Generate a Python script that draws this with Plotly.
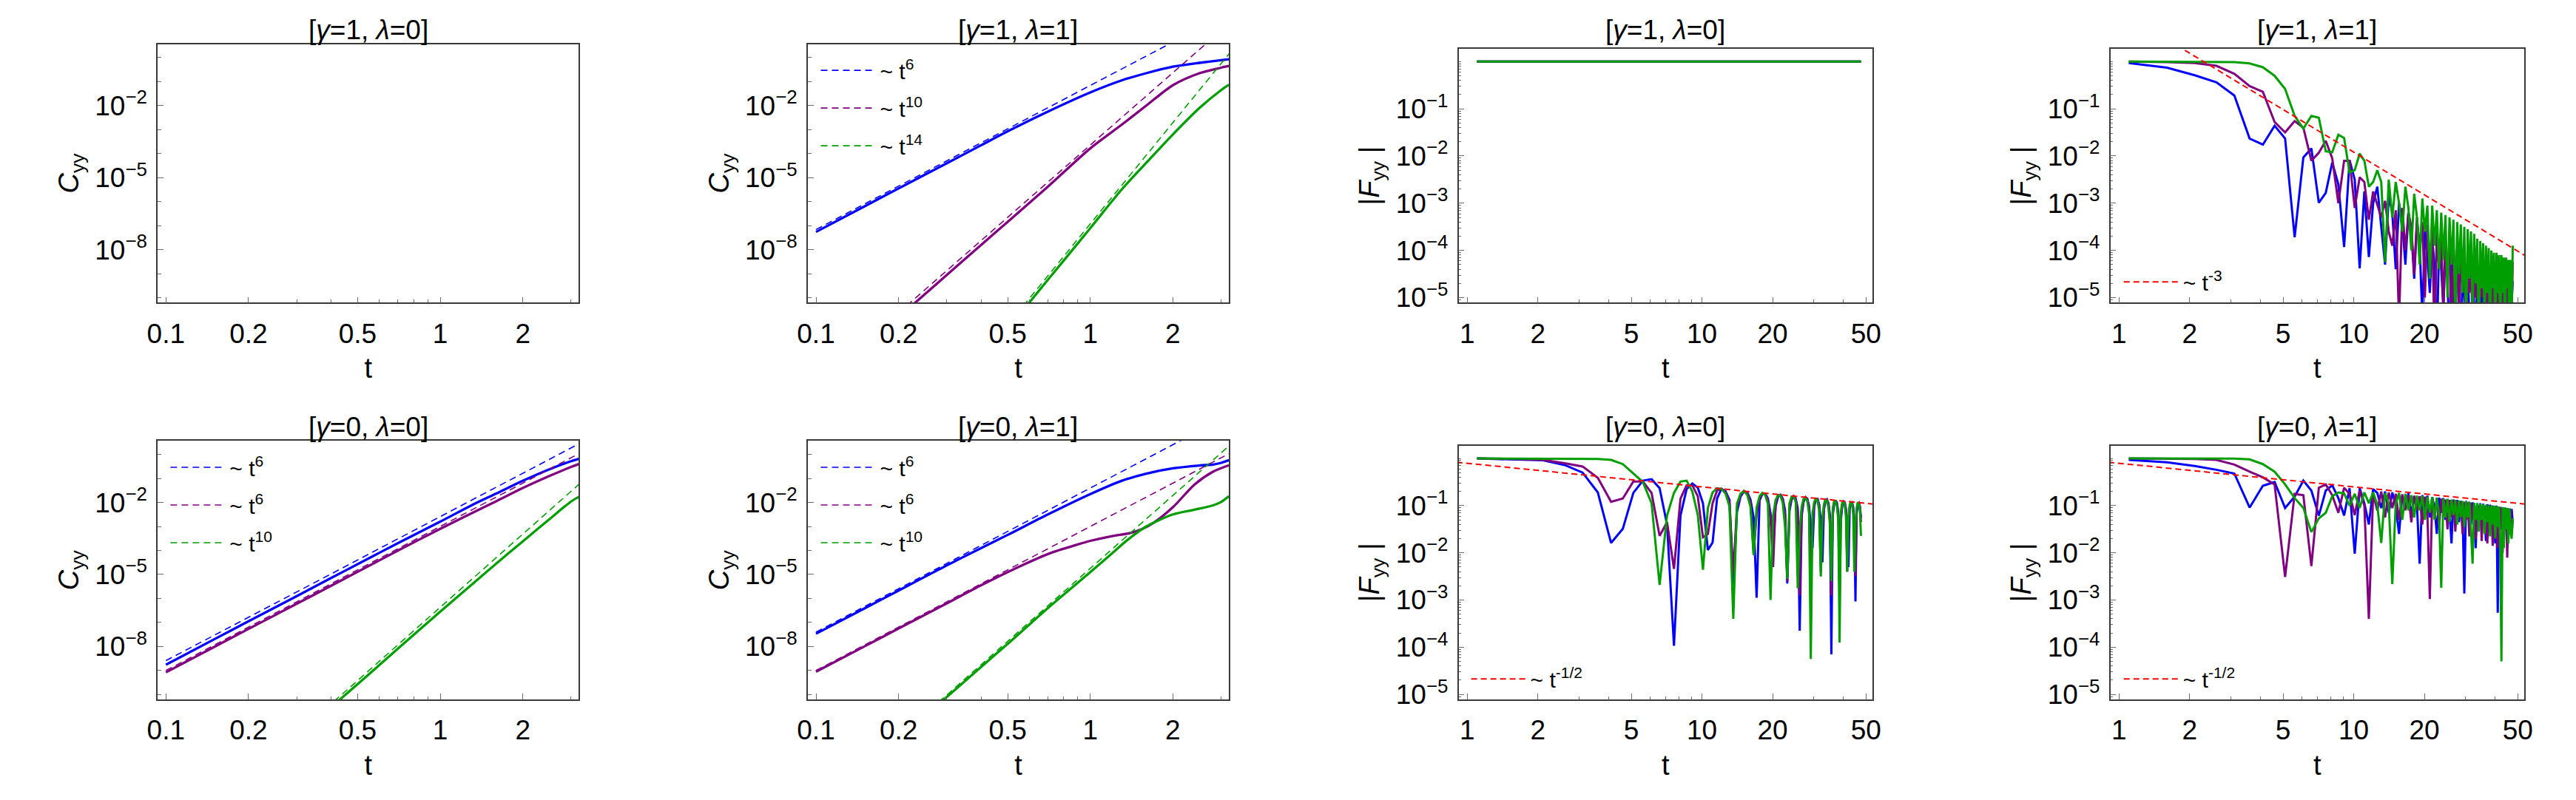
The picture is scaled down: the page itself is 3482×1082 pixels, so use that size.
import numpy as np
import plotly.graph_objects as go

W, H = 3482, 1082
FONT = "Liberation Sans, Arial, Helvetica, sans-serif"
BLUE, PURPLE, GREEN, RED = "rgb(0,0,255)", "rgb(128,0,128)", "rgb(0,158,0)", "rgb(255,0,0)"
FRAME, TICKC = "#3a3a3a", "#6a6a6a"

# ---------------- C_yy panels (log10 values) ----------------
# panel [gamma=1, lambda=1]
P2_T_BLUE = [0.1, 0.15, 0.2, 0.3, 0.4, 0.5, 0.7, 1.0, 1.3, 1.6, 2.0, 2.5, 3.0, 3.2]
P2_BLUE = [-7.26, -6.20, -5.45, -4.40, -3.65, -3.07, -2.25, -1.45, -0.95, -0.65, -0.38, -0.22, -0.11, -0.07]
P2_T_PURPLE = [0.22, 0.3, 0.4, 0.5, 0.7, 1.0, 1.3, 1.6, 2.0, 2.5, 3.0, 3.2]
P2_PURPLE = [-10.40, -9.05, -7.80, -6.84, -5.38, -3.78, -2.80, -2.00, -1.15, -0.65, -0.42, -0.35]
P2_T_GREEN = [0.58, 0.7, 1.0, 1.3, 1.6, 2.0, 2.5, 3.0, 3.2]
P2_GREEN = [-10.40, -9.26, -7.10, -5.50, -4.38, -3.20, -2.10, -1.35, -1.13]
P2_FIT_T_BLUE, P2_FIT_BLUE = [0.1, 3.2], [-7.16, 1.87]
P2_FIT_T_PURPLE, P2_FIT_PURPLE = [0.2, 3.2], [-10.63, 1.41]
P2_FIT_T_GREEN, P2_FIT_GREEN = [0.57, 3.2], [-10.34, 0.15]
P2_LABELS = ["~ t<sup>6</sup>", "~ t<sup>10</sup>", "~ t<sup>14</sup>"]

# panel [gamma=0, lambda=0]
P5_T = [0.1, 0.15, 0.2, 0.3, 0.4, 0.5, 0.7, 1.0, 1.3, 1.6, 2.0, 2.5, 3.0, 3.2]
P5_BLUE = [-8.76, -7.70, -6.95, -5.90, -5.15, -4.57, -3.70, -2.80, -2.12, -1.63, -1.10, -0.62, -0.28, -0.185]
P5_PURPLE = [-9.08, -8.02, -7.27, -6.22, -5.47, -4.89, -4.01, -3.10, -2.45, -1.95, -1.40, -0.90, -0.52, -0.40]
P5_T_GREEN = [0.42, 0.5, 0.7, 1.0, 1.3, 1.6, 2.0, 2.5, 3.0, 3.2]
P5_GREEN = [-10.32, -9.57, -8.10, -6.55, -5.43, -4.55, -3.62, -2.70, -1.96, -1.77]
P5_FIT_T_BLUE, P5_FIT_BLUE = [0.1, 3.2], [-8.59, 0.44]
P5_FIT_T_PURPLE, P5_FIT_PURPLE = [0.1, 3.2], [-9.00, 0.03]
P5_FIT_T_GREEN, P5_FIT_GREEN = [0.41, 3.2], [-10.29, -1.25]
P5_LABELS = ["~ t<sup>6</sup>", "~ t<sup>6</sup>", "~ t<sup>10</sup>"]

# panel [gamma=0, lambda=1]
P6_T_BLUE = [0.1, 0.15, 0.2, 0.3, 0.4, 0.5, 0.7, 1.0, 1.3, 1.6, 2.0, 2.5, 2.8, 3.0, 3.2]
P6_BLUE = [-7.47, -6.42, -5.67, -4.62, -3.90, -3.35, -2.50, -1.65, -1.10, -0.80, -0.58, -0.46, -0.42, -0.35, -0.24]
P6_T_PURPLE = [0.1, 0.15, 0.2, 0.3, 0.4, 0.5, 0.7, 0.9, 1.0, 1.2, 1.4, 1.55, 1.7, 2.0, 2.4, 2.8, 3.2]
P6_PURPLE = [-9.05, -8.00, -7.25, -6.20, -5.45, -4.90, -4.15, -3.75, -3.60, -3.40, -3.27, -3.10, -2.85, -2.20, -1.25, -0.72, -0.45]
P6_T_GREEN = [0.28, 0.4, 0.5, 0.7, 1.0, 1.2, 1.37, 1.6, 2.0, 2.4, 2.8, 3.0, 3.2]
P6_GREEN = [-10.40, -8.85, -7.89, -6.40, -4.90, -4.12, -3.55, -3.00, -2.50, -2.30, -2.12, -1.98, -1.74]
P6_FIT_T_BLUE, P6_FIT_BLUE = [0.1, 3.2], [-7.40, 1.63]
P6_FIT_T_PURPLE, P6_FIT_PURPLE = [0.1, 3.2], [-9.00, 0.03]
P6_FIT_T_GREEN, P6_FIT_GREEN = [0.28, 3.2], [-10.32, 0.35]
P6_LABELS = ["~ t<sup>6</sup>", "~ t<sup>6</sup>", "~ t<sup>10</sup>"]

# ---------------- |F_yy| panels (log10 values) ----------------
T_F = [1.1, 1.6, 2.1, 2.6, 3.1, 3.6, 4.1, 4.6, 5.1, 5.6,
       6.1, 6.6, 7.1, 7.6, 8.1, 8.6, 9.1, 9.6, 10.1, 10.6,
       11.1, 11.6, 12.1, 12.6, 13.1, 13.6, 14.1, 14.6, 15.1, 15.6,
       16.1, 16.6, 17.1, 17.6, 18.1, 18.6, 19.1, 19.6, 20.1, 20.6,
       21.1, 21.6, 22.1, 22.6, 23.1, 23.6, 24.1, 24.6, 25.1, 25.6,
       26.1, 26.6, 27.1, 27.6, 28.1, 28.6, 29.1, 29.6, 30.1, 30.6,
       31.1, 31.6, 32.1, 32.6, 33.1, 33.6, 34.1, 34.6, 35.1, 35.6,
       36.1, 36.6, 37.1, 37.6, 38.1, 38.6, 39.1, 39.6, 40.1, 40.6,
       41.1, 41.6, 42.1, 42.6, 43.1, 43.6, 44.1, 44.6, 45.1, 45.6,
       46.1, 46.6, 47.1, 47.6]

# panel [gamma=1, lambda=0]: all three curves stay at |F| = 1
P3_ALL = [0.0, 0.0, 0.0, 0.0, 0.0, 0.0, 0.0, 0.0, 0.0, 0.0,
          0.0, 0.0, 0.0, 0.0, 0.0, 0.0, 0.0, 0.0, 0.0, 0.0,
          0.0, 0.0, 0.0, 0.0, 0.0, 0.0, 0.0, 0.0, 0.0, 0.0,
          0.0, 0.0, 0.0, 0.0, 0.0, 0.0, 0.0, 0.0, 0.0, 0.0,
          0.0, 0.0, 0.0, 0.0, 0.0, 0.0, 0.0, 0.0, 0.0, 0.0,
          0.0, 0.0, 0.0, 0.0, 0.0, 0.0, 0.0, 0.0, 0.0, 0.0,
          0.0, 0.0, 0.0, 0.0, 0.0, 0.0, 0.0, 0.0, 0.0, 0.0,
          0.0, 0.0, 0.0, 0.0, 0.0, 0.0, 0.0, 0.0, 0.0, 0.0,
          0.0, 0.0, 0.0, 0.0, 0.0, 0.0, 0.0, 0.0, 0.0, 0.0,
          0.0, 0.0, 0.0, 0.0]

# panel [gamma=1, lambda=1]
P4_BLUE = [-0.03, -0.13, -0.29, -0.44, -0.72, -1.63, -1.76, -1.36, -1.63, -3.72,
           -2.03, -1.84, -2.99, -2.78, -2.14, -2.60, -3.93, -2.09, -2.50, -4.38,
           -2.75, -4.14, -3.00, -2.65, -3.50, -4.30, -2.85, -3.20, -4.40, -3.00,
           -3.40, -4.30, -3.20, -3.60, -4.60, -3.40, -3.90, -5.40, -3.60, -4.10,
           -4.90, -3.75, -4.30, -6.00, -3.90, -4.40, -5.20, -4.00, -4.60, -6.10,
           -4.10, -4.70, -5.50, -4.20, -4.90, -6.30, -4.30, -5.00, -5.60, -4.40,
           -5.10, -6.40, -4.50, -5.10, -5.80, -4.55, -5.20, -6.50, -4.60, -5.30,
           -5.90, -4.70, -5.30, -6.40, -4.75, -5.40, -6.00, -4.80, -5.40, -6.50,
           -4.85, -5.50, -6.10, -4.90, -5.50, -6.40, -4.95, -5.60, -6.20, -5.00,
           -5.60, -6.30, -5.10, -4.65]
P4_PURPLE = [0.00, -0.01, -0.03, -0.09, -0.26, -0.52, -0.64, -1.28, -1.50, -1.26,
             -1.40, -2.10, -1.93, -1.68, -2.05, -3.00, -2.10, -2.10, -3.10, -2.45,
             -2.55, -3.35, -2.75, -3.05, -3.30, -2.95, -3.60, -3.90, -3.15, -5.50,
             -3.10, -4.00, -3.20, -3.50, -4.50, -3.30, -4.00, -3.40, -5.00, -3.45,
             -4.30, -3.55, -6.00, -3.60, -4.40, -3.70, -5.30, -3.75, -4.60, -3.80,
             -6.00, -3.90, -4.70, -3.95, -5.50, -4.00, -4.80, -4.05, -6.20, -4.10,
             -4.90, -4.15, -5.70, -4.20, -5.00, -4.25, -6.30, -4.30, -5.00, -4.35,
             -5.90, -4.40, -5.10, -4.45, -6.40, -4.50, -5.20, -4.50, -6.00, -4.55,
             -5.20, -4.60, -6.50, -4.60, -5.30, -4.65, -6.10, -4.70, -5.30, -4.70,
             -6.30, -4.75, -5.20, -4.25]
P4_GREEN = [0.00, 0.00, 0.00, 0.00, -0.01, -0.04, -0.12, -0.30, -0.58, -1.15,
            -1.42, -1.15, -1.19, -1.90, -1.92, -1.55, -1.62, -2.35, -2.30, -1.95,
            -2.10, -2.65, -2.55, -2.30, -2.55, -4.25, -2.50, -3.30, -2.55, -3.00,
            -3.60, -2.65, -3.10, -4.00, -2.80, -3.30, -4.30, -2.90, -3.60, -3.05,
            -4.60, -3.05, -3.90, -3.15, -4.40, -3.20, -4.20, -3.25, -5.00, -3.30,
            -4.30, -3.35, -5.60, -3.40, -4.50, -3.45, -4.90, -3.50, -5.80, -3.55,
            -4.60, -3.60, -5.30, -3.65, -4.70, -3.75, -6.00, -3.80, -4.80, -3.85,
            -5.50, -3.90, -4.90, -3.95, -6.20, -4.00, -4.80, -4.05, -5.90, -4.05,
            -4.90, -4.10, -6.30, -4.10, -4.90, -4.15, -5.80, -4.15, -4.80, -4.20,
            -6.10, -4.20, -5.50, -3.90]
P4_FIT_T, P4_FIT = [1.0, 55.0], [1.08, -4.14]
P4_LABEL = "~ t<sup>-3</sup>"

# panel [gamma=0, lambda=0]
P7_BLUE = [0.00, -0.02, -0.04, -0.14, -0.30, -0.72, -1.79, -1.49, -0.73, -0.47,
           -0.44, -0.63, -1.40, -3.97, -1.21, -0.65, -0.53, -0.62, -0.95, -1.94,
           -1.78, -0.85, -0.643, -0.692, -0.879, -2.70, -1.137, -0.808, -0.70, -0.72,
           -0.871, -1.25, -2.95, -0.89, -0.75, -0.744, -0.85, -1.16, -1.90, -1.01,
           -0.81, -0.77, -0.85, -1.10, -2.65, -1.11, -0.87, -0.80, -0.85, -1.06,
           -3.65, -1.22, -0.92, -0.83, -0.85, -1.00, -1.50, -1.90, -1.01, -0.87,
           -0.86, -0.98, -1.32, -2.20, -1.08, -0.905, -0.87, -0.95, -1.20, -4.15,
           -1.20, -0.96, -0.89, -0.94, -1.14, -1.90, -1.31, -1.00, -0.91, -0.93,
           -1.07, -1.60, -2.30, -1.08, -0.94, -0.93, -1.03, -1.34, -3.03, -1.18,
           -0.98, -0.94, -1.01, -1.26]
P7_PURPLE = [0.00, -0.01, -0.03, -0.10, -0.17, -0.41, -0.92, -0.85, -0.49, -0.49,
             -0.73, -1.64, -1.35, -2.34, -0.85, -0.57, -0.57, -0.80, -1.67, -1.60,
             -0.95, -0.68, -0.645, -0.714, -0.94, -2.45, -1.04, -0.774, -0.69, -0.74,
             -0.92, -2.00, -1.18, -0.85, -0.74, -0.754, -0.887, -1.28, -2.30, -0.95,
             -0.79, -0.776, -0.88, -1.19, -2.60, -1.04, -0.84, -0.80, -0.875, -1.13,
             -2.90, -1.13, -0.89, -0.82, -0.87, -1.05, -2.70, -1.30, -0.965, -0.855,
             -0.87, -1.02, -2.40, -1.47, -1.03, -0.885, -0.875, -0.98, -1.29, -2.90,
             -1.13, -0.93, -0.89, -0.965, -1.21, -3.00, -1.22, -0.976, -0.905, -0.95,
             -1.13, -2.40, -1.37, -1.04, -0.93, -0.94, -1.07, -1.46, -2.50, -1.12,
             -0.96, -0.94, -1.04, -1.35]
P7_GREEN = [0.00, 0.00, 0.00, -0.002, -0.005, -0.01, -0.03, -0.12, -0.32, -0.50,
            -0.95, -2.68, -1.21, -0.73, -0.49, -0.47, -0.70, -1.20, -2.36, -1.05,
            -0.72, -0.63, -0.646, -0.742, -1.02, -3.40, -0.96, -0.746, -0.69, -0.774,
            -1.025, -2.05, -1.04, -0.80, -0.73, -0.777, -0.96, -3.00, -1.21, -0.883,
            -0.774, -0.79, -0.94, -1.45, -2.55, -0.954, -0.81, -0.807, -0.926, -2.75,
            -1.50, -1.03, -0.86, -0.83, -0.90, -1.15, -4.25, -1.16, -0.92, -0.846,
            -0.90, -1.10, -2.50, -1.27, -0.97, -0.872, -0.89, -1.04, -1.40, -2.60,
            -1.05, -0.90, -0.90, -1.01, -1.30, -3.90, -1.12, -0.94, -0.905, -0.98,
            -1.23, -2.40, -1.23, -0.99, -0.92, -0.96, -1.14, -2.40, -1.39, -1.055,
            -0.944, -0.953, -1.08, -1.64]
P7_FIT_T, P7_FIT = [0.9, 55.0], [-0.079, -0.972]
P7_LABEL = "~ t<sup>-1/2</sup>"

# panel [gamma=0, lambda=1]
P8_BLUE = [-0.03, -0.08, -0.16, -0.24, -0.32, -1.04, -0.58, -0.50, -1.05, -0.81,
           -0.47, -0.68, -1.21, -0.68, -0.57, -0.84, -1.21, -0.63, -2.02, -0.63,
           -0.95, -1.40, -0.65, -0.73, -1.05, -0.70, -1.15, -0.72, -1.00, -1.60,
           -0.78, -1.05, -0.74, -1.20, -0.80, -1.00, -2.23, -0.78, -1.10, -0.79,
           -1.25, -0.82, -1.05, -1.60, -0.83, -1.15, -0.84, -1.30, -0.86, -1.10,
           -1.80, -0.87, -1.20, -0.88, -1.35, -0.90, -1.15, -2.86, -0.90, -1.25,
           -0.92, -1.40, -0.93, -1.20, -1.90, -0.95, -1.30, -0.95, -1.45, -0.96,
           -1.20, -1.75, -0.97, -1.30, -0.98, -1.50, -1.00, -1.25, -1.80, -1.00,
           -3.27, -1.02, -1.50, -1.03, -1.30, -1.75, -1.04, -1.35, -1.05, -1.55,
           -1.06, -1.30, -1.07, -1.37]
P8_PURPLE = [0.00, -0.005, -0.01, -0.03, -0.13, -0.28, -0.40, -0.55, -2.51, -0.75,
             -0.78, -2.28, -0.62, -0.55, -0.78, -1.15, -0.62, -0.75, -1.20, -0.68,
             -1.00, -3.40, -0.75, -1.10, -0.70, -1.25, -0.72, -1.05, -0.75, -1.30,
             -0.76, -1.10, -0.78, -1.35, -0.79, -1.10, -0.80, -1.40, -0.81, -1.15,
             -2.98, -0.83, -1.20, -0.84, -1.45, -0.85, -1.20, -0.87, -1.50, -0.88,
             -1.25, -0.89, -1.55, -0.90, -1.25, -0.91, -1.60, -0.92, -1.30, -0.93,
             -1.65, -0.94, -1.30, -0.95, -1.70, -0.96, -1.35, -0.97, -1.75, -0.98,
             -1.35, -0.99, -1.80, -1.00, -1.40, -1.00, -1.85, -1.01, -1.40, -1.02,
             -1.90, -1.03, -1.45, -1.04, -2.00, -1.05, -1.45, -1.06, -2.10, -1.07,
             -1.50, -1.08, -1.60, -1.30]
P8_GREEN = [0.00, 0.00, 0.00, 0.00, -0.003, -0.02, -0.12, -0.28, -0.55, -0.84,
            -1.05, -1.56, -1.27, -1.15, -0.80, -0.72, -0.74, -1.00, -0.75, -1.05,
            -0.72, -0.95, -0.72, -0.98, -1.79, -0.73, -0.95, -2.66, -0.95, -0.73,
            -1.30, -0.75, -1.10, -0.78, -1.25, -0.79, -1.10, -0.80, -1.30, -0.81,
            -1.15, -0.82, -1.30, -0.83, -1.20, -2.74, -0.85, -1.25, -0.86, -1.35,
            -0.87, -1.20, -0.88, -1.40, -0.89, -1.25, -0.90, -1.45, -0.91, -1.25,
            -0.92, -1.50, -2.23, -0.94, -1.30, -0.95, -1.55, -0.96, -1.30, -0.97,
            -1.60, -0.98, -1.35, -0.99, -1.65, -1.00, -1.40, -1.00, -1.70, -1.01,
            -1.45, -1.02, -1.75, -4.30, -1.03, -1.90, -1.04, -1.50, -1.05, -1.80,
            -1.06, -1.55, -1.70, -1.27]
P8_FIT_T, P8_FIT = [0.9, 55.0], [-0.079, -0.972]
P8_LABEL = "~ t<sup>-1/2</sup>"

# ---------------- ticks ----------------
C_XTICKS = [0.1, 0.2, 0.5, 1, 2]
C_XTICKTEXT = ["0.1", "0.2", "0.5", "1", "2"]
C_XMINOR = [0.3, 0.4, 0.6, 0.7, 0.8, 0.9, 3]
C_YTICKS = [1e-2, 1e-5, 1e-8]
C_YTICKTEXT = ["10<sup>\u22122</sup>", "10<sup>\u22125</sup>", "10<sup>\u22128</sup>"]
C_YMINOR = [1, 1e-1, 1e-3, 1e-4, 1e-6, 1e-7, 1e-9, 1e-10]
F_XTICKS = [1, 2, 5, 10, 20, 50]
F_XTICKTEXT = ["1", "2", "5", "10", "20", "50"]
F_XMINOR = [3, 4, 6, 7, 8, 9, 30, 40]
F_YTICKS = [1e-1, 1e-2, 1e-3, 1e-4, 1e-5]
F_YTICKTEXT = ["10<sup>\u22121</sup>", "10<sup>\u22122</sup>", "10<sup>\u22123</sup>",
               "10<sup>\u22124</sup>", "10<sup>\u22125</sup>"]
F_YMINOR = [1] + [m * 10.0 ** e for e in range(-6, 1) for m in range(2, 10)]

TITLES = ["[<i>γ</i>=1, <i>λ</i>=0]", "[<i>γ</i>=1, <i>λ</i>=1]",
          "[<i>γ</i>=1, <i>λ</i>=0]", "[<i>γ</i>=1, <i>λ</i>=1]",
          "[<i>γ</i>=0, <i>λ</i>=0]", "[<i>γ</i>=0, <i>λ</i>=1]",
          "[<i>γ</i>=0, <i>λ</i>=0]", "[<i>γ</i>=0, <i>λ</i>=1]"]
KIND = ["C", "C", "F", "F", "C", "C", "F", "F"]

# ---------------- layout geometry (pixels) ----------------
COLS = [(199.7, 773.3), (1085.3, 1658.9), (1971.9, 2535.8), (2859.8, 3423.7)]
ROWS_C = [(60.3, 414.8), (604.1, 958.5)]
ROWS_F = [(66.6, 414.8), (610.4, 958.5)]
TITLE_Y = [41.0, 585.5]


def xa(p):
    return "x" if p == 1 else f"x{p}"


def ya(p):
    return "y" if p == 1 else f"y{p}"


fig = go.Figure()


def add_curve(p, t, logv, color, width, dash="solid", shape="linear", name=None, legend=None):
    line = dict(color=color, width=width, dash=dash, shape=shape)
    if shape == "spline":
        line["smoothing"] = 0.8
    kw = dict(x=t, y=np.power(10.0, np.asarray(logv, dtype=float)), mode="lines", line=line,
              xaxis=xa(p), yaxis=ya(p), hoverinfo="skip", showlegend=name is not None)
    if name is not None:
        kw.update(name=name, legend=legend, legendgroup=f"{legend}-{name}-{color}")
    fig.add_trace(go.Scatter(**kw))


FITDASH = "9px,6px"
SW_C, SW_F, DW = 3.3, 3.0, 1.6

# empty panel [gamma=1, lambda=0] for C_yy: register its axes
fig.add_trace(go.Scatter(x=[None], y=[None], mode="lines", xaxis="x", yaxis="y",
                         showlegend=False, hoverinfo="skip"))

# C panels
for p, (tb, b, tp, pu, tg, gr, fits, labels, lg) in {
    2: (P2_T_BLUE, P2_BLUE, P2_T_PURPLE, P2_PURPLE, P2_T_GREEN, P2_GREEN,
        [(P2_FIT_T_BLUE, P2_FIT_BLUE), (P2_FIT_T_PURPLE, P2_FIT_PURPLE), (P2_FIT_T_GREEN, P2_FIT_GREEN)],
        P2_LABELS, "legend"),
    5: (P5_T, P5_BLUE, P5_T, P5_PURPLE, P5_T_GREEN, P5_GREEN,
        [(P5_FIT_T_BLUE, P5_FIT_BLUE), (P5_FIT_T_PURPLE, P5_FIT_PURPLE), (P5_FIT_T_GREEN, P5_FIT_GREEN)],
        P5_LABELS, "legend2"),
    6: (P6_T_BLUE, P6_BLUE, P6_T_PURPLE, P6_PURPLE, P6_T_GREEN, P6_GREEN,
        [(P6_FIT_T_BLUE, P6_FIT_BLUE), (P6_FIT_T_PURPLE, P6_FIT_PURPLE), (P6_FIT_T_GREEN, P6_FIT_GREEN)],
        P6_LABELS, "legend3"),
}.items():
    add_curve(p, tb, b, BLUE, SW_C, shape="spline")
    add_curve(p, tp, pu, PURPLE, SW_C, shape="spline")
    add_curve(p, tg, gr, GREEN, SW_C, shape="spline")
    for (ft, fv), col, lab in zip(fits, [BLUE, PURPLE, GREEN], labels):
        add_curve(p, ft, fv, col, DW, dash=FITDASH, name=lab, legend=lg)

# F panels
add_curve(3, T_F, P3_ALL, BLUE, SW_F)
add_curve(3, T_F, P3_ALL, PURPLE, SW_F)
add_curve(3, T_F, P3_ALL, GREEN, SW_F)
for p, (b, pu, gr, ft, fv, lab, lg) in {
    4: (P4_BLUE, P4_PURPLE, P4_GREEN, P4_FIT_T, P4_FIT, P4_LABEL, "legend4"),
    7: (P7_BLUE, P7_PURPLE, P7_GREEN, P7_FIT_T, P7_FIT, P7_LABEL, "legend5"),
    8: (P8_BLUE, P8_PURPLE, P8_GREEN, P8_FIT_T, P8_FIT, P8_LABEL, "legend6"),
}.items():
    add_curve(p, T_F, b, BLUE, SW_F)
    add_curve(p, T_F, pu, PURPLE, SW_F)
    add_curve(p, T_F, gr, GREEN, SW_F)
    add_curve(p, ft, fv, RED, 2.0, dash="8px,5px", name=lab, legend=lg)

# ---------------- axes ----------------
layout = dict(width=W, height=H, autosize=False, margin=dict(l=0, r=0, t=0, b=0),
              paper_bgcolor="white", plot_bgcolor="white",
              font=dict(family=FONT, size=37, color="black"), annotations=[])

for i in range(8):
    p = i + 1
    q = p + 8  # overlay axes carrying the unlabelled minor ticks
    col = i % 4
    row = i // 4
    kind = KIND[i]
    x0, x1 = COLS[col]
    y0, y1 = (ROWS_C if kind == "C" else ROWS_F)[row]
    xdom = [x0 / W, x1 / W]
    ydom = [1 - y1 / H, 1 - y0 / H]
    common = dict(type="log", showline=True, linecolor=FRAME, linewidth=1.6, mirror=True,
                  ticks="inside", ticklen=8, tickwidth=1.2, tickcolor=TICKC,
                  showgrid=False, zeroline=False, tickmode="array",
                  tickfont=dict(family=FONT, size=37, color="black"))
    minor_common = dict(type="log", showline=False, showgrid=False, zeroline=False,
                        ticks="inside", tickwidth=1, tickcolor=TICKC, tickmode="array",
                        showticklabels=False)
    if kind == "C":
        xr, yr = [-1.03, 0.505], [-10.21, 0.565]
        xax = dict(common, range=xr, tickvals=C_XTICKS, ticktext=C_XTICKTEXT)
        yax = dict(common, range=yr, tickvals=C_YTICKS, ticktext=C_YTICKTEXT,
                   title=dict(text="<i>C</i><sub>yy</sub>", font=dict(size=38), standoff=10))
        xmin = dict(minor_common, range=xr, tickvals=C_XMINOR, ticklen=4.5)
        ymin = dict(minor_common, range=yr, tickvals=C_YMINOR, ticklen=5)
    else:
        xr, yr = [-0.037, 1.727], [-5.108, 0.275]
        xax = dict(common, range=xr, tickvals=F_XTICKS, ticktext=F_XTICKTEXT)
        yax = dict(common, range=yr, tickvals=F_YTICKS, ticktext=F_YTICKTEXT,
                   title=dict(text="|<i>F</i><sub>yy</sub> |", font=dict(size=38), standoff=10))
        xmin = dict(minor_common, range=xr, tickvals=F_XMINOR, ticklen=4.5)
        ymin = dict(minor_common, range=yr, tickvals=F_YMINOR, ticklen=3.5)
    xax.update(domain=xdom, anchor=ya(p), ticklabelstandoff=8,
               title=dict(text="t", font=dict(size=38), standoff=14))
    yax.update(domain=ydom, anchor=xa(p), ticklabelstandoff=5)
    xmin.update(domain=xdom, anchor=f"y{q}", overlaying=xa(p))
    ymin.update(domain=ydom, anchor=f"x{q}", overlaying=ya(p))
    layout["xaxis" if p == 1 else f"xaxis{p}"] = xax
    layout["yaxis" if p == 1 else f"yaxis{p}"] = yax
    layout[f"xaxis{q}"] = xmin
    layout[f"yaxis{q}"] = ymin
    fig.add_trace(go.Scatter(x=[None], y=[None], mode="lines", xaxis=f"x{q}", yaxis=f"y{q}",
                             showlegend=False, hoverinfo="skip"))
    layout["annotations"].append(dict(text=TITLES[i], x=(x0 + x1) / 2 / W, y=1 - TITLE_Y[row] / H,
                                      xref="paper", yref="paper", xanchor="center", yanchor="middle",
                                      showarrow=False, font=dict(size=37, family=FONT)))


# ---------------- legends ----------------
def legend_at(x_px, y_px):
    return dict(x=x_px / W, y=1 - y_px / H, xref="paper", yref="paper", xanchor="left", yanchor="top",
                bgcolor="rgba(0,0,0,0)", borderwidth=0, font=dict(family=FONT, size=30, color="black"),
                traceorder="grouped", tracegroupgap=9, itemwidth=75, itemclick=False)


layout["legend"] = legend_at(1098, 70)
layout["legend2"] = legend_at(212, 614)
layout["legend3"] = legend_at(1098, 614)
layout["legend4"] = legend_at(2873, 360)
layout["legend5"] = legend_at(1984, 904)
layout["legend6"] = legend_at(2873, 904)

fig.update_layout(**layout)
fig.write_html("out.html")
